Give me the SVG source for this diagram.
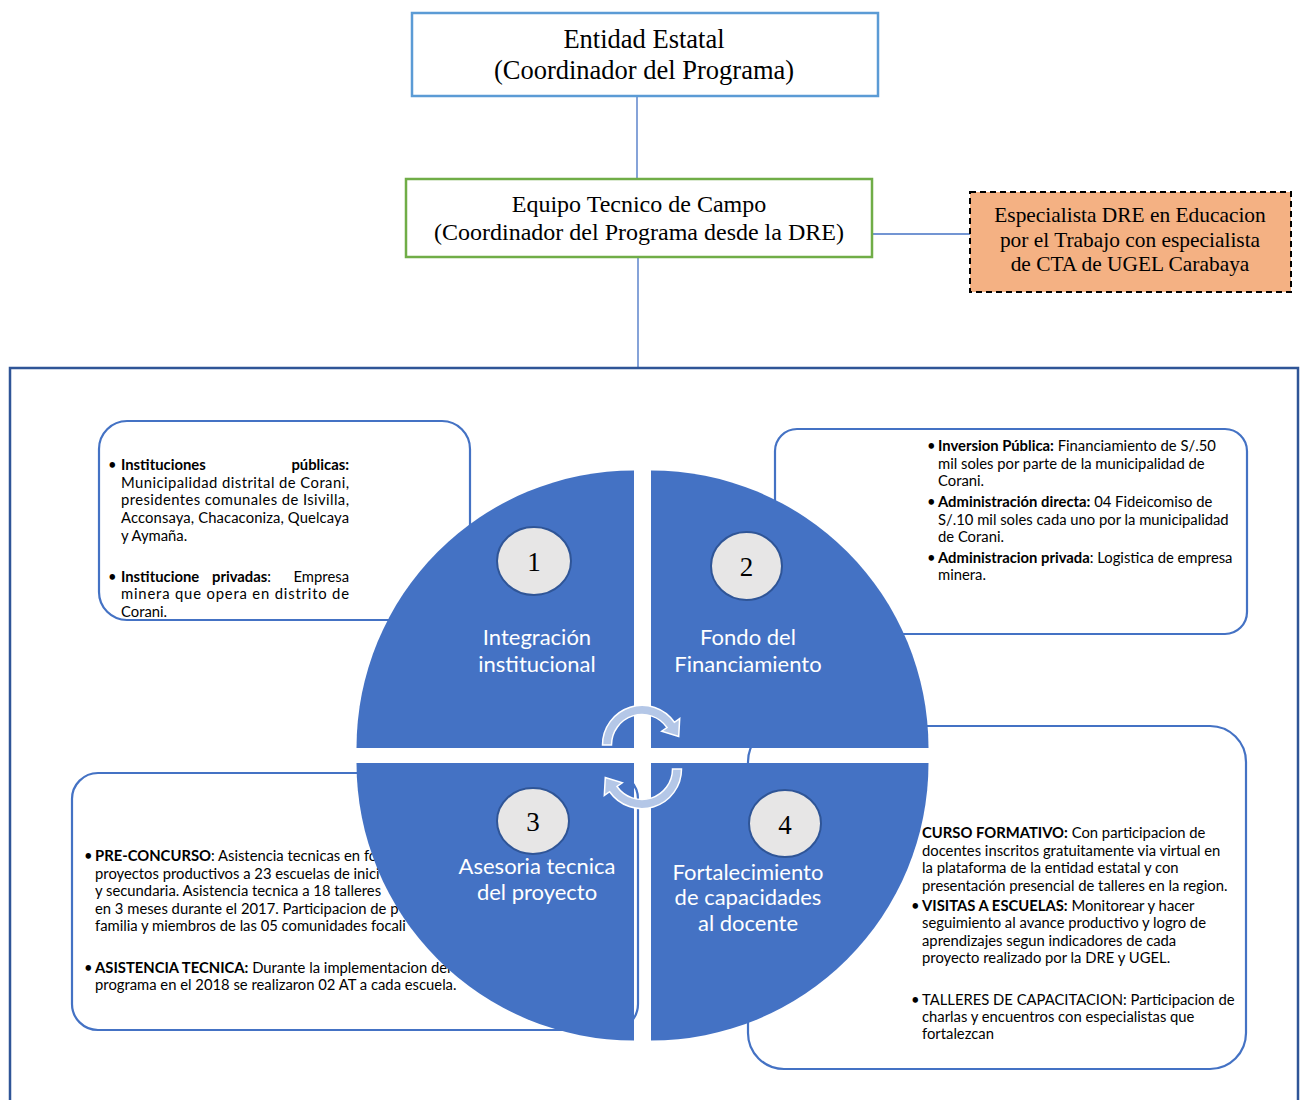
<svg xmlns="http://www.w3.org/2000/svg" width="1304" height="1100" viewBox="0 0 1304 1100">
<style>
.serif{font-family:"Liberation Serif","Times New Roman",serif;fill:#000}
.body{font-family:Lato,"Liberation Sans",sans-serif;font-size:14.8px;fill:#000}
.b{font-weight:bold}
.box{fill:#fff;stroke:#4472c4;stroke-width:2.2}
.quad{fill:#4472c4}
.lbl{font-family:Lato,"Liberation Sans",sans-serif;font-size:22px;fill:#fff;text-anchor:middle}
.num{fill:#e7e6e6;stroke:#2f5597;stroke-width:2}
.numt{font-family:"Liberation Serif",serif;font-size:27px;fill:#000;text-anchor:middle}
.conn{stroke:#4472c4;stroke-width:1.3;fill:none}
.arr{fill:#b4c7e7;stroke:#fff;stroke-width:1.5}
</style>
<rect width="1304" height="1100" fill="#fff"/>

<g id="connectors">
<line class="conn" x1="637" y1="96" x2="637" y2="179"/>
<line class="conn" x1="638" y1="257" x2="638" y2="368"/>
<line class="conn" x1="872" y1="234" x2="970" y2="234"/>
</g>

<g id="entidad">
<rect x="412" y="13" width="466" height="83" fill="#fff" stroke="#5b9bd5" stroke-width="2.5"/>
<text class="serif" x="644" y="48" font-size="26.5" text-anchor="middle">Entidad Estatal</text>
<text class="serif" x="644" y="79" font-size="26.5" text-anchor="middle">(Coordinador del Programa)</text>
</g>

<g id="equipo">
<rect x="406" y="179" width="466" height="78" fill="#fff" stroke="#70ad47" stroke-width="2.5"/>
<text class="serif" x="639" y="212" font-size="24" text-anchor="middle">Equipo Tecnico de Campo</text>
<text class="serif" x="639" y="240" font-size="24" text-anchor="middle">(Coordinador del Programa desde la DRE)</text>
</g>

<g id="especialista">
<rect x="970" y="192" width="321" height="100" fill="#f4b183" stroke="#000" stroke-width="2" stroke-dasharray="6,4"/>
<text class="serif" x="1130" y="222" font-size="21.4" text-anchor="middle">Especialista DRE en Educacion</text>
<text class="serif" x="1130" y="247" font-size="21.4" text-anchor="middle">por el Trabajo con especialista</text>
<text class="serif" x="1130" y="271" font-size="21.4" text-anchor="middle">de CTA de UGEL Carabaya</text>
</g>

<g id="contenedor">
<rect x="10" y="368" width="1288" height="760" fill="none" stroke="#2f5597" stroke-width="2.5"/>
</g>

<g id="box-integracion">
<rect class="box" x="99" y="421" width="371" height="199" rx="28"/>
<text class="body" x="108" y="470">•</text>
<text class="body b" x="121" y="470">Instituciones</text>
<text class="body b" x="349" y="470" text-anchor="end">públicas:</text>
<text class="body" x="121" y="488" textLength="228" lengthAdjust="spacing">Municipalidad distrital de Corani,</text>
<text class="body" x="121" y="505" textLength="228" lengthAdjust="spacing">presidentes comunales de Isivilla,</text>
<text class="body" x="121" y="523" textLength="228" lengthAdjust="spacing">Acconsaya, Chacaconiza, Quelcaya</text>
<text class="body" x="121" y="541">y Aymaña.</text>
<text class="body" x="108" y="582">•</text>
<text class="body" x="121" y="582"><tspan class="b">Institucione</tspan></text>
<text class="body" x="212" y="582"><tspan class="b">privadas</tspan>:</text>
<text class="body" x="349" y="582" text-anchor="end">Empresa</text>
<text class="body" x="121" y="599" textLength="228" lengthAdjust="spacing">minera que opera en distrito de</text>
<text class="body" x="121" y="617">Corani.</text>
</g>

<g id="box-fondo">
<rect class="box" x="775" y="429" width="472" height="205" rx="22"/>
<text class="body" x="927" y="451">•</text>
<text class="body" x="938" y="451"><tspan class="b">Inversion Pública:</tspan> Financiamiento de S/.50</text>
<text class="body" x="938" y="469">mil soles por parte de la municipalidad de</text>
<text class="body" x="938" y="486">Corani.</text>
<text class="body" x="927" y="507">•</text>
<text class="body" x="938" y="507"><tspan class="b">Administración directa:</tspan> 04 Fideicomiso de</text>
<text class="body" x="938" y="525">S/.10 mil soles cada uno por la municipalidad</text>
<text class="body" x="938" y="542">de Corani.</text>
<text class="body" x="927" y="563">•</text>
<text class="body" x="938" y="563"><tspan class="b">Administracion privada</tspan>: Logistica de empresa</text>
<text class="body" x="938" y="580">minera.</text>
</g>

<g id="box-asesoria">
<rect class="box" x="72" y="773" width="566" height="257" rx="26"/>
<text class="body" x="84" y="861">•</text>
<text class="body" x="95" y="861"><tspan class="b">PRE-CONCURSO</tspan>: Asistencia tecnicas en for</text>
<text class="body" x="95" y="879">proyectos productivos a 23 escuelas de inici</text>
<text class="body" x="95" y="896">y secundaria. Asistencia tecnica a 18 talleres</text>
<text class="body" x="95" y="914">en 3 meses durante el 2017. Participacion de p</text>
<text class="body" x="95" y="931">familia y miembros de las 05 comunidades focali</text>
<text class="body" x="84" y="973">•</text>
<text class="body" x="95" y="973"><tspan class="b">ASISTENCIA TECNICA:</tspan> Durante la implementacion del</text>
<text class="body" x="95" y="990">programa en el 2018 se realizaron 02 AT a cada escuela.</text>
</g>

<g id="box-fortalecimiento">
<rect class="box" x="748" y="726" width="498" height="343" rx="36"/>
<text class="body" x="922" y="838"><tspan class="b">CURSO FORMATIVO:</tspan> Con participacion de</text>
<text class="body" x="922" y="856">docentes inscritos gratuitamente via virtual en</text>
<text class="body" x="922" y="873">la plataforma de la entidad estatal y con</text>
<text class="body" x="922" y="891">presentación presencial de talleres en la region.</text>
<text class="body" x="911" y="911">•</text>
<text class="body" x="922" y="911"><tspan class="b">VISITAS A ESCUELAS:</tspan> Monitorear y hacer</text>
<text class="body" x="922" y="928">seguimiento al avance productivo y logro de</text>
<text class="body" x="922" y="946">aprendizajes segun indicadores de cada</text>
<text class="body" x="922" y="963">proyecto realizado por la DRE y UGEL.</text>
<text class="body" x="911" y="1005">•</text>
<text class="body" x="922" y="1005">TALLERES DE CAPACITACION: Participacion de</text>
<text class="body" x="922" y="1022">charlas y encuentros con especialistas que</text>
<text class="body" x="922" y="1039">fortalezcan</text>
</g>

<g id="q1">
<path class="quad" d="M634,748 L356.5,748 A277.5,277.5 0 0 1 634,470.5 Z"/>
<ellipse class="num" cx="534" cy="561" rx="37" ry="34"/>
<text class="numt" x="534" y="571">1</text>
<text class="lbl" x="537" y="645">Integración</text>
<text class="lbl" x="537" y="672">institucional</text>
</g>

<g id="q2">
<path class="quad" d="M651,748 L651,470.5 A277.5,277.5 0 0 1 928.5,748 Z"/>
<ellipse class="num" cx="746.5" cy="566" rx="35.5" ry="34"/>
<text class="numt" x="746.5" y="576">2</text>
<text class="lbl" x="748" y="645">Fondo del</text>
<text class="lbl" x="748" y="672">Financiamiento</text>
</g>

<g id="q3">
<path class="quad" d="M634,763 L634,1040.5 A277.5,277.5 0 0 1 356.5,763 Z"/>
<ellipse class="num" cx="533" cy="821" rx="36" ry="33"/>
<text class="numt" x="533" y="831">3</text>
<text class="lbl" x="537" y="874">Asesoria tecnica</text>
<text class="lbl" x="537" y="900">del proyecto</text>
</g>

<g id="q4">
<path class="quad" d="M651,763 L928.5,763 A277.5,277.5 0 0 1 651,1040.5 Z"/>
<ellipse class="num" cx="785" cy="823.5" rx="36" ry="33.5"/>
<text class="numt" x="785" y="834">4</text>
<text class="lbl" x="748" y="880">Fortalecimiento</text>
<text class="lbl" x="748" y="905">de capacidades</text>
<text class="lbl" x="748" y="931">al docente</text>
</g>

<g id="ciclo">
<path class="arr" d="M611.5,745 L602.5,745 A39.5,39.5 0 0 1 674.4,722.3 L679.7,718.6 L678.7,736.4 L661.7,731.2 L667,727.5 A30.5,30.5 0 0 0 611.5,745 Z"/>
<path class="arr" transform="rotate(180 642 757)" d="M611.5,745 L602.5,745 A39.5,39.5 0 0 1 674.4,722.3 L679.7,718.6 L678.7,736.4 L661.7,731.2 L667,727.5 A30.5,30.5 0 0 0 611.5,745 Z"/>
</g>
</svg>
